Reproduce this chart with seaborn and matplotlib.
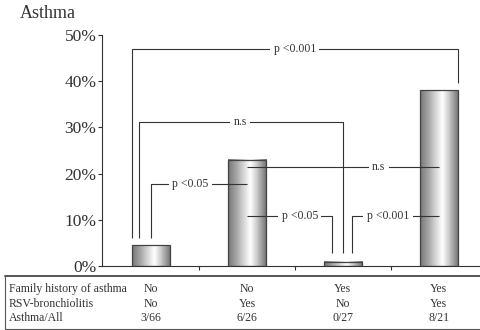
import numpy as np
import pandas as pd
import matplotlib
matplotlib.use('Agg')
import matplotlib.pyplot as plt
import matplotlib.transforms as mtransforms
from matplotlib.colors import LinearSegmentedColormap
from matplotlib.lines import Line2D
import seaborn as sns

# values
groups = ['A', 'B', 'C', 'D']
asthma_pct = [4.5, 23.0, 0.9, 38.0]
family_history = ['No', 'No', 'Yes', 'Yes']
rsv_bronchiolitis = ['No', 'Yes', 'No', 'Yes']
asthma_all = ['3/66', '6/26', '0/27', '8/21']
row_labels = ['Family history of asthma', 'RSV-bronchiolitis', 'Asthma/All']
y_ticks = [0, 10, 20, 30, 40, 50]

df = pd.DataFrame({'group': groups, 'pct': asthma_pct})

sns.set_style('ticks')
plt.rcParams['font.family'] = ['Liberation Serif', 'DejaVu Serif']

ink = '#333333'
fig = plt.figure(figsize=(4.81, 3.30), dpi=100)
ax = fig.add_axes([102 / 481, 64 / 330, 379 / 481, 231 / 330])

sns.barplot(data=df, x='group', y='pct', width=0.4, color='white',
            edgecolor='#444444', linewidth=0.9, ax=ax, zorder=2)

# cylinder-like shading: dark edges, white highlight right of centre
cmap = LinearSegmentedColormap.from_list(
    'cyl', [(0, '#777777'), (0.22, '#a8a8a8'), (0.45, '#e2e2e2'), (0.58, '#ffffff'),
            (0.72, '#d4d4d4'), (1, '#707070')])
gradient = np.linspace(0, 1, 64).reshape(1, -1)
for p in ax.patches:
    x0, y0 = p.get_x(), p.get_y()
    w, h = p.get_width(), p.get_height()
    p.set_facecolor('none')
    ax.imshow(gradient, extent=[x0, x0 + w, y0, y0 + h], cmap=cmap,
              aspect='auto', interpolation='bilinear', zorder=1)


def bracket(xs, ys, label, lx, ly):
    ax.plot(xs, ys, color=ink, lw=0.8, zorder=3, solid_capstyle='butt')
    ax.text(lx, ly, label, fontsize=8.5, ha='center', va='center', color=ink, zorder=4,
            bbox=dict(facecolor='white', edgecolor='none', pad=2.5))


bracket([-0.2, -0.2, 3.2, 3.2], [6.1, 47.0, 47.0, 39.6], 'p <0.001', 1.5, 47.0)
bracket([-0.125, -0.125, 2.0, 2.0], [6.1, 31.2, 31.2, 2.8], 'n.s', 0.93, 31.2)
bracket([0, 0, 1.0], [6.1, 17.7, 17.7], 'p <0.05', 0.41, 17.7)
bracket([1.0, 3.0], [21.4, 21.4], 'n.s', 2.375, 21.4)
bracket([1.0, 1.89, 1.89], [10.8, 10.8, 2.8], 'p <0.05', 1.55, 10.8)
bracket([2.1, 2.1, 3.0], [2.8, 10.8, 10.8], 'p <0.001', 2.47, 10.8)

ax.set_xlim(-0.511, 3.44)
ax.set_ylim(0, 50)
ax.set_yticks(y_ticks)
ax.set_yticklabels([f'{v}%' for v in y_ticks])
ax.set_xticks([])
ax.set_xticks([0.5, 1.5, 2.5], minor=True)
ax.set_xlabel('')
ax.set_ylabel('')
ax.tick_params(axis='y', length=3, width=0.8, color=ink, labelsize=12.5,
               labelcolor=ink, pad=1, direction='out')
ax.tick_params(axis='x', which='minor', length=3, width=0.8, color=ink, direction='out')
for s in ['top', 'right']:
    ax.spines[s].set_visible(False)
for s in ['left', 'bottom']:
    ax.spines[s].set_color(ink)
    ax.spines[s].set_linewidth(0.8)

fig.text(20 / 481, 1 - 13 / 330, 'Asthma', fontsize=13, va='center', color=ink)

# table under the chart
trans = mtransforms.blended_transform_factory(ax.transData, fig.transFigure)
row_y = [1 - 289 / 330, 1 - 304 / 330, 1 - 318 / 330]
for label, vals, y in zip(row_labels, [family_history, rsv_bronchiolitis, asthma_all], row_y):
    fig.text(9 / 481, y, label, fontsize=8.5, va='center', color=ink)
    for i, v in enumerate(vals):
        ax.text(i, y, v, transform=trans, fontsize=8.5, ha='center', va='center',
                color=ink, clip_on=False)

fig.add_artist(Line2D([5 / 481, 1], [1 - 276 / 330] * 2, color='#555555', lw=1.4))
fig.add_artist(Line2D([5 / 481, 5 / 481], [1 - 276 / 330, 1 - 329 / 330], color='#555555', lw=0.8))
fig.add_artist(Line2D([5 / 481, 1], [1 - 329 / 330] * 2, color='#555555', lw=0.8))

fig.savefig('out.png', dpi=100)
